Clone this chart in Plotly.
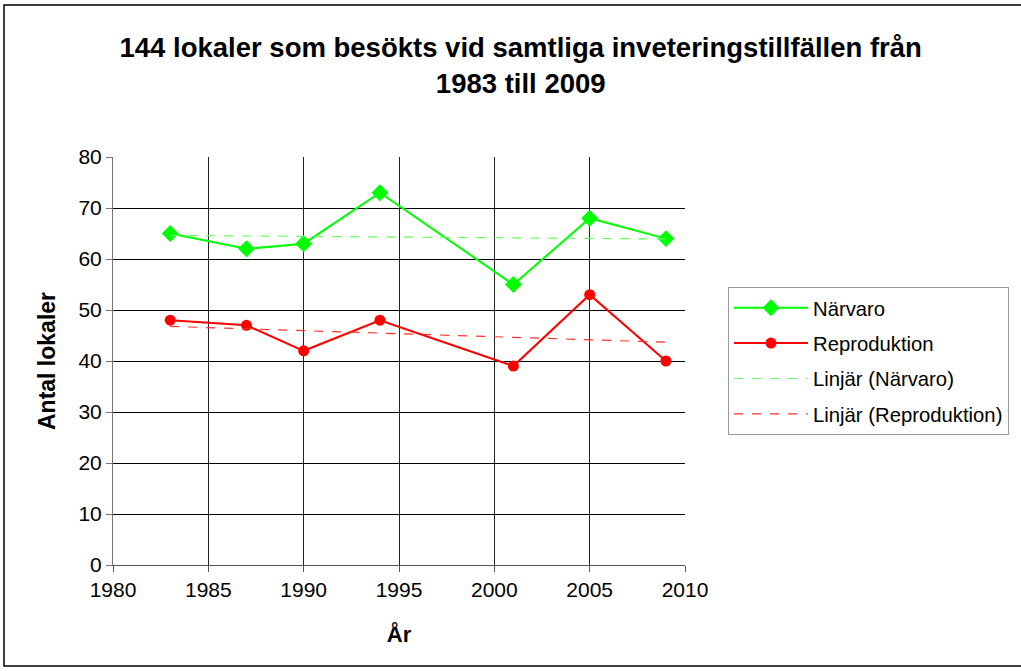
import numpy as np
import plotly.graph_objects as go

years = [1983, 1987, 1990, 1994, 2001, 2005, 2009]
narvaro = [65, 62, 63, 73, 55, 68, 64]
reproduktion = [48, 47, 42, 48, 39, 53, 40]

title_text = "<b>144 lokaler som besökts vid samtliga inveteringstillfällen från<br>1983 till 2009</b>"
x_title = "<b>År</b>"
y_title = "<b>Antal lokaler</b>"

GREEN = "#00FF00"
RED = "#FF0000"

W, H = 1021, 671
L, R, T, B = 113, 336, 157, 106

x = np.array(years, dtype=float)
pn = np.polyfit(x, narvaro, 1)
pr = np.polyfit(x, reproduktion, 1)
xt = np.array([min(years), max(years)], dtype=float)

fig = go.Figure()
fig.add_trace(go.Scatter(x=years, y=narvaro, name="Närvaro", mode="lines+markers",
                         legendgroup="a",
                         line=dict(color=GREEN, width=2),
                         marker=dict(symbol="diamond", size=13, color=GREEN)))
fig.add_trace(go.Scatter(x=years, y=reproduktion, name="Reproduktion", mode="lines+markers",
                         legendgroup="b",
                         line=dict(color=RED, width=2),
                         marker=dict(symbol="circle", size=11, color=RED)))
fig.add_trace(go.Scatter(x=xt, y=np.polyval(pn, xt), name="Linjär (Närvaro)", mode="lines",
                         legendgroup="c",
                         line=dict(color="#66FF66", width=1.2, dash="dash")))
fig.add_trace(go.Scatter(x=xt, y=np.polyval(pr, xt), name="Linjär (Reproduktion)", mode="lines",
                         legendgroup="d",
                         line=dict(color="#FF3030", width=1.2, dash="dash")))

plot_w = W - L - R
plot_h = H - T - B

fig.update_layout(
    width=W, height=H,
    paper_bgcolor="white", plot_bgcolor="white",
    margin=dict(l=L, r=R, t=T, b=B),
    font=dict(family="Liberation Sans, Arial, sans-serif", size=21, color="black"),
    title=dict(text=title_text, x=0.51, xanchor="center", y=1 - 57 / H, yanchor="top",
               font=dict(size=27.5, color="black")),
    xaxis=dict(range=[1980, 2010], dtick=5, tick0=1980, showgrid=True, gridcolor="#222222",
               gridwidth=1, showline=True, linecolor="#555555", ticks="outside", ticklen=6,
               tickcolor="#555555", zeroline=False, mirror=False,
               title=dict(text=x_title, font=dict(size=22), standoff=26)),
    yaxis=dict(range=[0, 80], dtick=10, showgrid=True, gridcolor="#000000", gridwidth=1,
               showline=True, linecolor="#777777", ticks="outside", ticklen=6,
               tickcolor="#777777", zeroline=False,
               title=dict(text=y_title, font=dict(size=23), standoff=16)),
    legend=dict(x=(728 - L) / plot_w, y=(H - B - 287) / plot_h, xanchor="left", yanchor="top",
                bordercolor="#999999", borderwidth=1, bgcolor="white",
                font=dict(size=20.3), tracegroupgap=6, itemwidth=74),
    showlegend=True,
    shapes=[dict(type="rect", xref="paper", yref="paper",
                 x0=(4 - L) / plot_w, x1=(1030 - L) / plot_w,
                 y0=(H - B - 666) / plot_h, y1=(H - B - 5) / plot_h,
                 line=dict(color="black", width=1.5))],
)

fig.write_html("out.html", config={"displayModeBar": False},
               post_script="document.body.style.margin='0px';")
